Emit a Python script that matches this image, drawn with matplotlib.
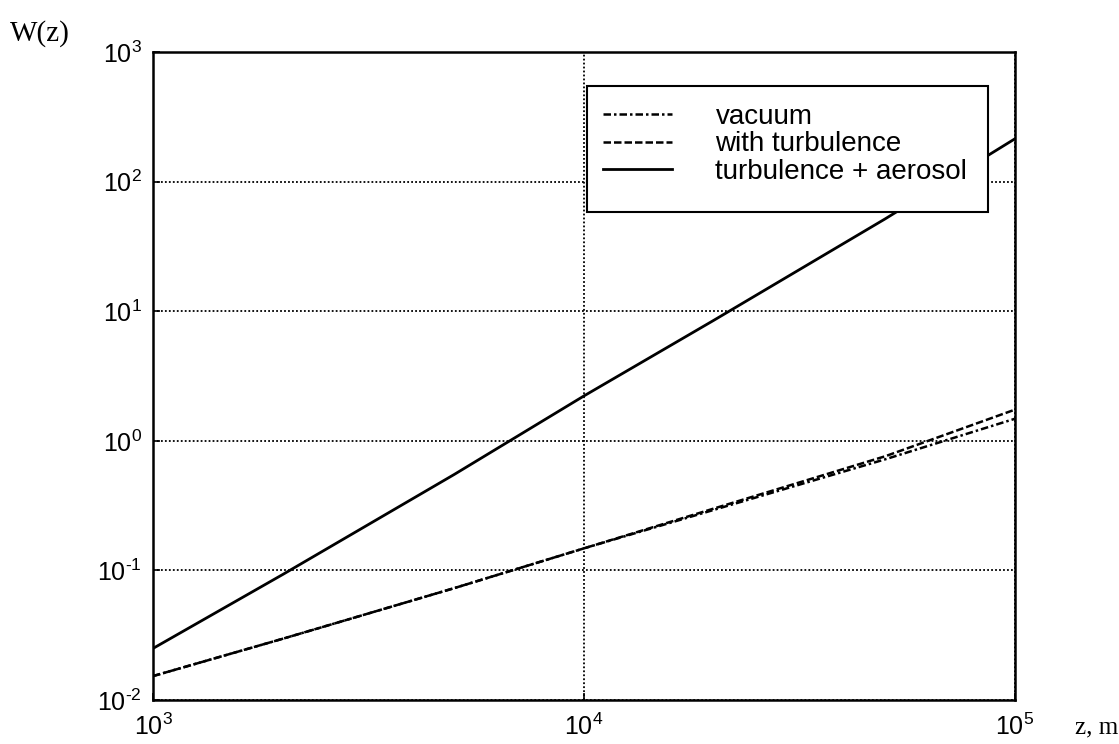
import matplotlib
matplotlib.use("Agg")
import matplotlib.pyplot as plt
from matplotlib.patches import Rectangle
from matplotlib.ticker import LogLocator, NullLocator, FuncFormatter
import numpy as np

plt.rcParams['font.family'] = ['Liberation Sans', 'DejaVu Sans']
plt.rcParams['mathtext.fontset'] = 'custom'
plt.rcParams['mathtext.rm'] = 'Liberation Sans'
plt.rcParams['mathtext.default'] = 'regular'
plt.rcParams['axes.unicode_minus'] = False

# Data
z = [1e3, 2e3, 5e3, 1e4, 2e4, 5e4, 1e5]
w_vacuum = [0.0153, 0.0297, 0.073, 0.148, 0.293, 0.72, 1.48]
w_turbulence = [0.0153, 0.0297, 0.073, 0.148, 0.30, 0.76, 1.74]
w_aerosol = [0.025, 0.093, 0.55, 2.22, 8.5, 51.6, 214.0]

labels = ['vacuum', 'with turbulence', 'turbulence + aerosol']
x_label = 'z, m'
y_label = 'W(z)'


def dec_fmt(v, pos):
    e = int(round(np.log10(v)))
    if e < 0:
        return r'$10^{\text{-}%d}$' % (-e)
    return r'$10^{%d}$' % e


fig = plt.figure(figsize=(11.19, 7.44), dpi=100)
ax = fig.add_axes([0.1367, 0.0591, 0.7703, 0.8710])

lv, = ax.plot(z, w_vacuum, color='black', lw=1.8, ls=(0, (3, 1.2, 1, 1.2)), zorder=2)
lt, = ax.plot(z, w_turbulence, color='black', lw=1.8, ls=(0, (3, 1.2)), zorder=2)
la, = ax.plot(z, w_aerosol, color='black', lw=2.0, ls='-', zorder=2)

ax.set_xscale('log')
ax.set_yscale('log')
ax.set_xlim(1e3, 1e5)
ax.set_ylim(1e-2, 1e3)
ax.xaxis.set_major_locator(LogLocator(base=10, numticks=10))
ax.yaxis.set_major_locator(LogLocator(base=10, numticks=10))
ax.xaxis.set_minor_locator(NullLocator())
ax.yaxis.set_minor_locator(NullLocator())
ax.xaxis.set_major_formatter(FuncFormatter(dec_fmt))
ax.yaxis.set_major_formatter(FuncFormatter(dec_fmt))

ax.grid(True, which='major', color='black', ls=(0, (1, 1.2)), lw=1.3)
for s in ax.spines.values():
    s.set_linewidth(1.8)
ax.tick_params(axis='both', which='major', direction='in', length=5, width=1.2,
               labelsize=18)
ax.tick_params(axis='y', pad=8)
ax.tick_params(axis='x', pad=10)

# legend frame
rect = Rectangle((0.5035, 0.753), 0.4652, 0.1945, transform=ax.transAxes,
                 facecolor='white', edgecolor='black', lw=1.5, zorder=3)
ax.add_patch(rect)
leg = ax.legend([lv, lt, la], labels, loc='upper left', bbox_to_anchor=(0.522, 0.92),
                frameon=False, fontsize=20, handlelength=2.5, handletextpad=1.55,
                labelspacing=0.05, borderpad=0, borderaxespad=0)
leg.set_zorder(4)

fig.text(0.009, 0.955, y_label, family='Liberation Serif', fontsize=21, ha='left', va='center')
fig.text(0.961, 0.022, x_label, family='Liberation Serif', fontsize=18, ha='left', va='center')

fig.savefig('out.png', dpi=100)
